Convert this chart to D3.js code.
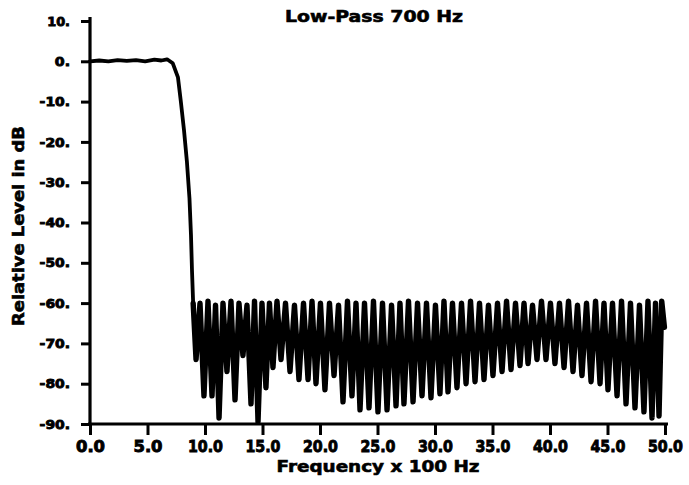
<!DOCTYPE html>
<html>
<head>
<meta charset="utf-8">
<script src="https://cdn.jsdelivr.net/npm/d3@7"></script>
<style>
  body { margin: 0; background: #fff; }
  text { font-family: "DejaVu Sans", sans-serif; font-weight: bold; fill: #000; }
</style>
</head>
<body>
<svg id="chart" width="689" height="485"></svg>
<script>
const width = 689, height = 485;

// passband + roll-off (freq in 100 Hz, level in dB)
const passFreq = [0, 0.8, 1.6, 2.4, 3.2, 4.0, 4.8, 5.6, 6.2, 6.7, 7.2, 7.65, 7.9, 8.17, 8.43, 8.65, 8.78, 8.87, 8.97];
const passDb   = [0, 0.2, 0.0, 0.3, 0.1, 0.3, 0.0, 0.4, 0.2, 0.5, -0.5, -4, -10, -17, -25, -34, -43, -52, -60];

// stopband nulls
const nullFreq = [9.22, 9.91, 10.61, 11.22, 11.91, 12.61, 13.30, 14.00, 14.61, 15.30,
  15.91, 16.61, 17.39, 18.17, 18.96, 19.65, 20.43, 21.22, 22.00, 22.78,
  23.48, 24.26, 25.04, 25.83, 26.61, 27.30, 28.09, 28.87, 29.65, 30.43,
  31.13, 31.91, 32.70, 33.48, 34.26, 35.04, 35.83, 36.61, 37.39, 38.09,
  38.87, 39.65, 40.43, 41.22, 42.00, 42.78, 43.57, 44.35, 45.04, 45.83,
  46.61, 47.39, 48.17, 48.87, 49.48];
const nullDb = [-74, -83, -83, -88.5, -77, -84, -73, -85, -89.5, -81,
  -76, -74, -77, -79, -79, -80, -81.5, -78, -84.5, -83,
  -86.5, -86, -87, -86.5, -85.5, -85, -84.5, -83, -83.5, -82.5,
  -82, -81, -80, -79.5, -79, -78, -77, -76.5, -75.5, -75,
  -74, -74, -75, -76, -77, -78, -79.5, -80, -81.5, -83,
  -85, -86, -87, -88.5, -88];
// lobe tops between successive nulls (last one before the end point)
const peakDb = [-60, -59.5, -60.5, -60, -59.5, -60, -60.5, -59.5, -60, -60,
  -59.5, -60, -60.5, -60, -59.5, -60, -60, -60.5, -59.5, -60,
  -60, -59.5, -60, -60.5, -60, -59.5, -60, -60, -60.5, -59.5,
  -60, -60, -59.5, -60, -60.5, -60, -59.5, -60, -60, -60.5,
  -59.5, -60, -60, -59.5, -60.5, -60, -59.5, -60, -60, -59.5,
  -60, -60.5, -59.5, -60, -59.5];
const endFreq = 49.95, endDb = -66;

const xTicks = [0, 5, 10, 15, 20, 25, 30, 35, 40, 45, 50];
const yTicks = [10, 0, -10, -20, -30, -40, -50, -60, -70, -80, -90];

const x = d3.scaleLinear().domain([0, 50]).range([90, 665]);
const y = d3.scaleLinear().domain([-90, 10]).range([424, 21]);

const svg = d3.select('#chart');

// build the trace: passband, then null / lobe-top pairs
const passPts = passFreq.map((f, i) => [f, passDb[i]]);
let stopPts = [passPts[passPts.length - 1]];
nullFreq.forEach((f, i) => {
    stopPts.push([f, nullDb[i]]);
    const nf = i < nullFreq.length - 1 ? nullFreq[i + 1] : endFreq;
    stopPts.push([(f + nf) / 2, peakDb[i]]);
});
stopPts.push([endFreq, endDb]);

const line = d3.line().x(d => x(d[0])).y(d => y(d[1]));

svg.append("path")
    .datum(passPts)
    .attr("fill", "none")
    .attr("stroke", "#000")
    .attr("stroke-width", 3.8)
    .attr("stroke-linejoin", "round")
    .attr("stroke-linecap", "round")
    .attr("d", line);

svg.append("path")
    .datum(stopPts)
    .attr("fill", "none")
    .attr("stroke", "#000")
    .attr("stroke-width", 5.4)
    .attr("stroke-linejoin", "round")
    .attr("stroke-linecap", "round")
    .attr("d", line);

// axes
const xAxis = svg.append("g").attr("transform", `translate(0,${y(-90)})`)
    .call(d3.axisBottom(x).tickValues(xTicks).tickSize(11).tickFormat(d3.format(".1f")).tickPadding(6));
const yAxis = svg.append("g").attr("transform", `translate(${x(0)},0)`)
    .call(d3.axisLeft(y).tickValues(yTicks).tickSize(9).tickFormat(d => d + ".").tickPadding(11));

[xAxis, yAxis].forEach(g => {
    g.select(".domain").remove();
    g.selectAll(".tick line").attr("stroke", "#000").attr("stroke-width", 3);
});
xAxis.selectAll("text")
    .style("font-size", "16px")
    .attr("stroke", "#000").attr("stroke-width", 0.9)
    .attr("textLength", d => d >= 10 ? 35 : 29)
    .attr("lengthAdjust", "spacingAndGlyphs");
yAxis.selectAll("text")
    .style("font-size", "13px")
    .attr("stroke", "#000").attr("stroke-width", 0.9)
    .attr("textLength", d => (d + ".").length * 7.6)
    .attr("lengthAdjust", "spacingAndGlyphs");

// axis lines, drawn heavy like the plotter
svg.append("line").attr("x1", x(0)).attr("x2", x(0)).attr("y1", 17).attr("y2", y(-90) + 1)
    .attr("stroke", "#000").attr("stroke-width", 3.2);
svg.append("line").attr("x1", x(0) - 2).attr("x2", 668).attr("y1", y(-90)).attr("y2", y(-90))
    .attr("stroke", "#000").attr("stroke-width", 3.2);

// titles
svg.append("text").attr("x", 374).attr("y", 22).attr("text-anchor", "middle")
    .style("font-size", "16px").attr("stroke", "#000").attr("stroke-width", 0.6)
    .attr("textLength", 178).attr("lengthAdjust", "spacingAndGlyphs")
    .text("Low-Pass 700 Hz");
svg.append("text").attr("x", 378).attr("y", 472).attr("text-anchor", "middle")
    .style("font-size", "16px").attr("stroke", "#000").attr("stroke-width", 0.6)
    .attr("textLength", 203).attr("lengthAdjust", "spacingAndGlyphs")
    .text("Frequency x 100 Hz");
svg.append("text").attr("transform", "translate(24,226) rotate(-90)").attr("text-anchor", "middle")
    .style("font-size", "15px").attr("stroke", "#000").attr("stroke-width", 0.6)
    .attr("textLength", 200).attr("lengthAdjust", "spacingAndGlyphs")
    .text("Relative Level in dB");
</script>
</body>
</html>
